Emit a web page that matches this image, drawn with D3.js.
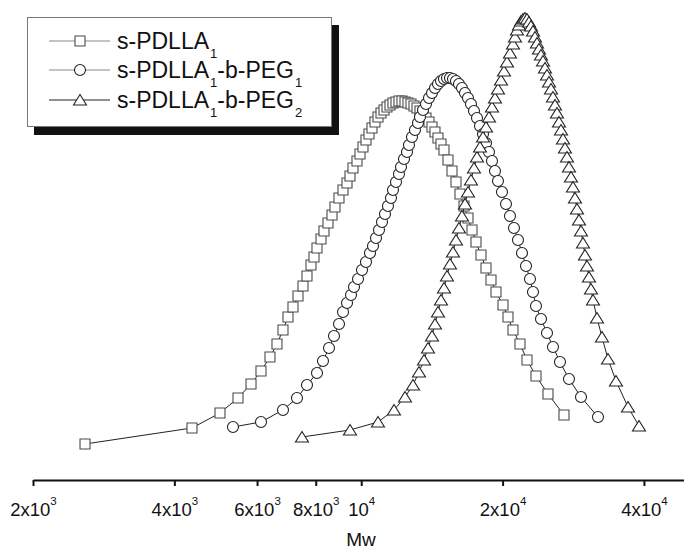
<!DOCTYPE html>
<html>
<head>
<meta charset="utf-8">
<script src="https://cdn.jsdelivr.net/npm/d3@7"></script>
<style>
  html, body { margin: 0; padding: 0; background: #fff; }
  svg { display: block; font-family: "Liberation Sans", Arial, Helvetica, sans-serif; }
</style>
</head>
<body>
<script>
const width = 684;
const height = 549;

// s-PDLLA1
const sqMw = [2581, 4361, 5003, 5465, 5825, 6117, 6393, 6616, 6814, 6983, 7156, 7334, 7516, 7665, 7817, 7933, 8050, 8210, 8331, 8496,
  8665, 8793, 8967, 9145, 9326, 9464, 9604, 9795, 9940, 10087, 10236, 10388, 10542, 10698, 10857, 11018, 11181, 11347, 11515, 11685,
  11859, 12034, 12213, 12394, 12577, 12764, 12953, 13145, 13339, 13537, 13738, 13941, 14148, 14357, 14570, 14786, 15005, 15303, 15606, 15915,
  16230, 16551, 16879, 17214, 17555, 17990, 18437, 18894, 19363, 20039, 20537, 21046, 21781, 22542, 23559, 24987, 27026];
const sqI = [4, 8, 11.75, 15.5, 19, 22.25, 25.75, 29, 32.5, 35.75, 38.25, 41, 43.5, 46, 48.75, 50.75, 53, 55.25, 57.25, 59.25,
  61.25, 63.25, 65.5, 67.5, 69.25, 71, 73, 74.75, 76.5, 78.25, 80, 81.5, 83, 84.5, 85.75, 86.75, 87.5, 88.25, 88.75, 89.25,
  89.5, 89.75, 89.75, 89.5, 89.25, 89, 88.5, 88, 87.25, 86.5, 85.5, 84.5, 83.25, 82, 80.5, 79, 77.5, 75, 72.25, 69.5,
  66.5, 63.5, 60.5, 57.5, 54.5, 51.25, 48, 45, 42, 38.75, 35.75, 32.5, 29, 25, 21, 16.5, 11.25];

// s-PDLLA1-b-PEG1
const ciMw = [5332, 6117, 6814, 7298, 7665, 8050, 8290, 8538, 8750, 8967, 9145, 9326, 9511, 9652, 9843, 10038, 10236, 10439, 10594, 10751,
  10910, 11072, 11236, 11402, 11571, 11685, 11859, 12034, 12153, 12333, 12516, 12639, 12826, 13016, 13209, 13339, 13537, 13738, 13941, 14148,
  14357, 14570, 14786, 15005, 15228, 15453, 15682, 15915, 16151, 16390, 16633, 16879, 17129, 17383, 17641, 17902, 18168, 18437, 18710, 18987,
  19268, 19554, 19941, 20336, 20739, 21150, 21569, 21996, 22432, 22876, 23215, 23559, 24144, 24865, 25607, 26501, 27697, 29376, 31929];
const ciI = [8.25, 9.5, 12.5, 15.5, 18.75, 21.75, 24.75, 28, 31, 34, 37, 39.25, 41.25, 43.25, 45.25, 47.5, 49.5, 51.75, 53.5, 55.5,
  57.5, 59.5, 61.5, 63.5, 65.5, 67.5, 69.5, 71.5, 73.25, 75.25, 77, 78.75, 80.75, 82.5, 84.25, 85.75, 87.5, 89, 90.5, 91.75,
  93, 94, 94.75, 95.25, 95.5, 95.5, 95.25, 94.75, 94, 93, 91.75, 90.5, 89, 87.25, 85.5, 83.5, 81.5, 79.25, 77, 74.75,
  72.25, 69.75, 67, 64, 61, 58, 55, 51.75, 48.5, 45.25, 42, 38.5, 35.25, 31.75, 28.25, 24.5, 20.25, 15.75, 10.75];

// s-PDLLA1-b-PEG2
const trMw = [7479, 9464, 10857, 11743, 12394, 12889, 13274, 13604, 13873, 14148, 14357, 14570, 14786, 15005, 15228, 15453, 15682, 15915, 16151, 16390,
  16633, 16879, 17129, 17383, 17641, 17902, 18168, 18437, 18710, 18987, 19268, 19554, 19844, 20138, 20436, 20739, 21046, 21254, 21463, 21675,
  21889, 22104, 22322, 22542, 22764, 22988, 23215, 23444, 23675, 23908, 24144, 24382, 24622, 24865, 25110, 25357, 25607, 25859, 26114, 26372,
  26632, 26894, 27159, 27427, 27697, 27970, 28245, 28524, 28805, 29089, 29376, 29665, 29957, 30253, 30551, 30852, 31156, 31773, 32561, 33534,
  34875, 36989, 39039];
const trI = [5.75, 7.5, 9.5, 12.5, 15.75, 18.75, 22, 25, 28, 31, 34, 37, 40, 43, 46, 49, 52, 55, 58, 61,
  64, 67, 70, 73, 75.75, 78.25, 80.75, 83.25, 85.75, 88.25, 90.5, 92.75, 95, 97.25, 99.5, 101.75, 104, 105.75, 107.5, 108.75,
  109.75, 110.25, 110.5, 110.25, 109.5, 108.5, 107.25, 105.75, 104.25, 102.75, 101.25, 99.75, 98, 96.25, 94.5, 92.75, 90.75, 88.75, 86.75, 84.5,
  82.5, 80.25, 78, 75.75, 73.25, 70.75, 68.25, 65.5, 62.75, 60, 57.25, 54.25, 51.25, 48.5, 45.75, 42.75, 40, 35.5, 30.75, 25.25,
  19.75, 13.25, 8.5];

const tickValues = [2000, 4000, 6000, 8000, 10000, 20000, 40000];
const tickLabels = [['2x10', '3'], ['4x10', '3'], ['6x10', '3'], ['8x10', '3'], ['10', '4'], ['2x10', '4'], ['4x10', '4']];

// text parts: [string, isSubscript]
const legendLabels = [
  [['s-PDLLA', 0], ['1', 1]],
  [['s-PDLLA', 0], ['1', 1], ['-b-PEG', 0], ['1', 1]],
  [['s-PDLLA', 0], ['1', 1], ['-b-PEG', 0], ['2', 1]],
];

const series = [
  { mw: sqMw, val: sqI, shape: 'square', stroke: '#4a4a4a', legendLine: '#888' },
  { mw: ciMw, val: ciI, shape: 'circle', stroke: '#222', legendLine: '#888' },
  { mw: trMw, val: trI, shape: 'triangle', stroke: '#222', legendLine: '#222' },
];

const svg = d3.select('body')
  .append('svg')
    .attr('width', width)
    .attr('height', height);

const x = d3.scaleLog()
  .domain([2000, 48680])
  .range([33, 684]);

const y = d3.scaleLinear()
  .domain([0, 110])
  .range([460, 20]);

const shapePath = {
  square: d3.symbol(d3.symbolSquare, 100)(),
  circle: d3.symbol(d3.symbolCircle, Math.PI * 5.5 * 5.5)(),
  triangle: 'M0,-5.5L6.5,5L-6.5,5Z',
};

// x axis
const xAxis = d3.axisBottom(x)
  .tickValues(tickValues)
  .tickFormat('')
  .tickSizeInner(6)
  .tickSizeOuter(0)
  .tickPadding(0);

const axis = svg.append('g')
  .attr('transform', 'translate(0, 480)')
  .call(xAxis);

axis.select('.domain').attr('stroke', '#111').attr('stroke-width', 2);
axis.selectAll('.tick line').attr('stroke', '#111').attr('stroke-width', 2);
axis.selectAll('.tick text').remove();

axis.selectAll('.tick').each(function(d, i) {
  const t = d3.select(this).append('text')
    .attr('y', 36)
    .attr('text-anchor', 'middle')
    .attr('fill', '#111')
    .attr('font-size', 18.5);
  t.append('tspan').text(tickLabels[i][0]);
  t.append('tspan')
    .attr('dy', -11)
    .attr('font-size', 11.5)
    .text(tickLabels[i][1]);
});

svg.append('text')
  .attr('x', 361)
  .attr('y', 546)
  .attr('text-anchor', 'middle')
  .attr('font-size', 19)
  .attr('fill', '#111')
  .text('Mw');

// curves
const line = d3.line()
  .x((d) => x(d[0]))
  .y((d) => y(d[1]));

series.forEach((s) => {
  const pts = s.mw.map((m, i) => [m, s.val[i]]);

  svg.append('path')
    .attr('fill', 'none')
    .attr('stroke', '#222')
    .attr('stroke-width', 1)
    .attr('d', line(pts));

  svg.append('g')
    .selectAll('path')
    .data(pts)
    .enter()
      .append('path')
      .attr('transform', (d) => `translate(${x(d[0])},${y(d[1])})`)
      .attr('d', shapePath[s.shape])
      .attr('fill', '#fff')
      .attr('stroke', s.stroke)
      .attr('stroke-width', 1.1);
});

// legend
const legend = svg.append('g');

legend.append('rect')
  .attr('x', 34)
  .attr('y', 25)
  .attr('width', 305)
  .attr('height', 110)
  .attr('fill', '#111');

legend.append('rect')
  .attr('x', 27.5)
  .attr('y', 17.5)
  .attr('width', 304)
  .attr('height', 109)
  .attr('fill', '#fff')
  .attr('stroke', '#777')
  .attr('stroke-width', 1);

const rowY = [41, 70, 100];

series.forEach((s, i) => {
  const g = legend.append('g')
    .attr('transform', `translate(0, ${rowY[i]})`);

  g.append('line')
    .attr('x1', 49)
    .attr('x2', 110)
    .attr('stroke', s.legendLine)
    .attr('stroke-width', 1.2);

  g.append('path')
    .attr('transform', 'translate(80, 0)')
    .attr('d', shapePath[s.shape])
    .attr('fill', '#fff')
    .attr('stroke', s.stroke)
    .attr('stroke-width', 1.1);

  const t = g.append('text')
    .attr('x', 117)
    .attr('y', 8)
    .attr('font-size', 23)
    .attr('fill', '#111');

  let shifted = false;
  legendLabels[i].forEach(([str, sub]) => {
    const ts = t.append('tspan').text(str);
    if (sub) {
      ts.attr('font-size', 13).attr('dx', 1).attr('dy', 9);
      shifted = true;
    } else if (shifted) {
      ts.attr('dy', -9);
      shifted = false;
    }
  });
});
</script>
</body>
</html>
